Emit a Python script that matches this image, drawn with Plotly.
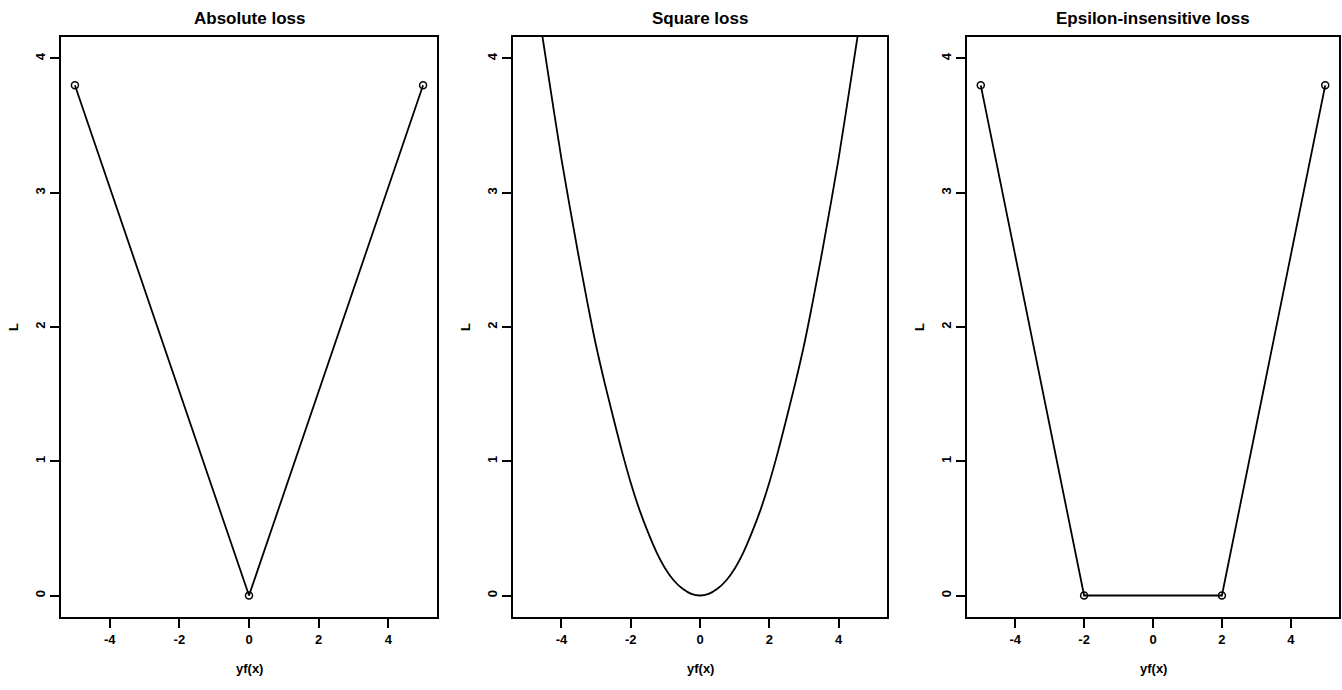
import plotly.graph_objs as go

# data
abs_x = [-5, 0, 5]
abs_y = [3.8, 0, 3.8]

sq_x = [-4.75, -4.5, -4.25, -4.0, -3.75, -3.5, -3.25, -3.0, -2.75, -2.5, -2.25,
        -2.0, -1.75, -1.5, -1.25, -1.0, -0.75, -0.5, -0.25, 0.0,
        0.25, 0.5, 0.75, 1.0, 1.25, 1.5, 1.75, 2.0, 2.25, 2.5, 2.75,
        3.0, 3.25, 3.5, 3.75, 4.0, 4.25, 4.5, 4.75]
sq_y = [4.5, 4.08, 3.66, 3.25, 2.88, 2.52, 2.18, 1.86, 1.58, 1.32, 1.07,
        0.84, 0.64, 0.47, 0.32, 0.2, 0.11, 0.05, 0.012, 0.0,
        0.012, 0.05, 0.11, 0.2, 0.32, 0.47, 0.64, 0.84, 1.07, 1.32, 1.58,
        1.86, 2.18, 2.52, 2.88, 3.25, 3.66, 4.08, 4.5]

eps_x = [-5, -2, 2, 5]
eps_y = [3.8, 0, 0, 3.8]

titles = ['Absolute loss', 'Square loss', 'Epsilon-insensitive loss']
x_ticks = [-4, -2, 0, 2, 4]
x_ticklabels = ['-4', '-2', '0', '2', '4']
y_ticks = [0, 1, 2, 3, 4]

W, H = 1342, 690
x_doms = [[61 / W, 437 / W], [513 / W, 887 / W], [967 / W, 1339 / W]]
y_dom = [1 - 617 / H, 1 - 37 / H]

font = 'Liberation Sans, Arial, sans-serif'

data = [
    go.Scatter(x=abs_x, y=abs_y, mode='lines+markers', xaxis='x', yaxis='y',
               line=dict(color='black', width=1.8),
               marker=dict(symbol='circle-open', size=7, color='black', line=dict(width=1.5))),
    go.Scatter(x=sq_x, y=sq_y, mode='lines', xaxis='x2', yaxis='y2',
               line=dict(color='black', width=1.8, shape='spline')),
    go.Scatter(x=eps_x, y=eps_y, mode='lines+markers', xaxis='x3', yaxis='y3',
               line=dict(color='black', width=1.8),
               marker=dict(symbol='circle-open', size=7, color='black', line=dict(width=1.5))),
]

layout = go.Layout(width=W, height=H, showlegend=False,
                   plot_bgcolor='white', paper_bgcolor='white',
                   margin=dict(l=0, r=0, t=0, b=0),
                   font=dict(family=font, color='black'))

annotations = []
for i in range(3):
    sfx = '' if i == 0 else str(i + 1)
    layout['xaxis' + sfx] = dict(domain=x_doms[i], range=[-5.4, 5.4], anchor='y' + sfx,
                                 tickvals=x_ticks, ticktext=x_ticklabels,
                                 ticks='outside', ticklen=9, tickwidth=1.5,
                                 tickcolor='black', showline=True, mirror=True, linecolor='black',
                                 linewidth=2, showgrid=False, zeroline=False,
                                 tickfont=dict(size=13, weight='bold', family=font))
    layout['yaxis' + sfx] = dict(domain=y_dom, range=[-0.16, 4.16], anchor='x' + sfx,
                                 tickvals=y_ticks, ticks='outside', ticklen=9, tickwidth=1.5,
                                 tickcolor='black', showline=True, mirror=True, linecolor='black',
                                 linewidth=2, showgrid=False, zeroline=False, tickangle=-90,
                                 tickfont=dict(size=13, weight='bold', family=font))
    xc = (x_doms[i][0] + x_doms[i][1]) / 2
    annotations.append(dict(text='<b>' + titles[i] + '</b>', x=xc, y=1 - 19 / H,
                            xref='paper', yref='paper', showarrow=False,
                            xanchor='center', yanchor='middle',
                            font=dict(size=17, family=font)))
    annotations.append(dict(text='<b>yf(x)</b>', x=xc, y=1 - 668 / H,
                            xref='paper', yref='paper', showarrow=False,
                            xanchor='center', yanchor='middle',
                            font=dict(size=13, family=font)))
    annotations.append(dict(text='<b>L</b>', x=x_doms[i][0] - 47 / W, y=(y_dom[0] + y_dom[1]) / 2,
                            xref='paper', yref='paper', showarrow=False, textangle=-90,
                            xanchor='center', yanchor='middle',
                            font=dict(size=13, family=font)))
layout['annotations'] = annotations

fig = go.Figure(data=data, layout=layout)
# drop the page's default body margin so the figure sits at the window's corner
fig.write_html('out.html', config={'displayModeBar': False},
               post_script="document.body.style.margin='0';")
